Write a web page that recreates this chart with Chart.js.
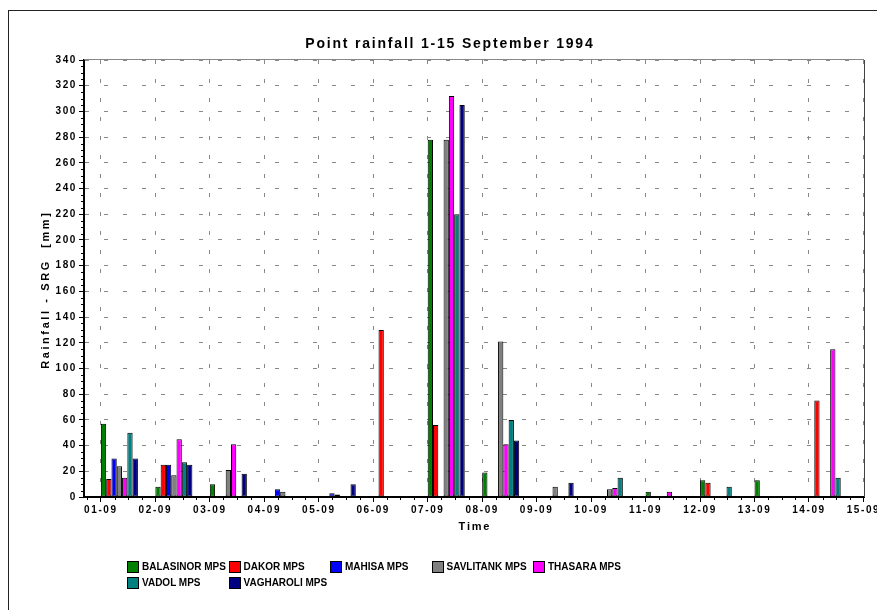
<!DOCTYPE html>
<html>
<head>
<meta charset="utf-8">
<script src="https://cdn.jsdelivr.net/npm/chart.js@4/dist/chart.umd.min.js"></script>
<style>
  html, body { margin: 0; padding: 0; background: #fff; overflow: hidden; }
  #wrap { position: relative; width: 877px; height: 610px; }
  #legend { position: absolute; left: 0; top: 0; width: 877px; height: 610px; pointer-events: none;
            font-family: "Liberation Sans", Arial, sans-serif; font-weight: bold; font-size: 10px; color: #000; }
  .item { position: absolute; height: 12px; white-space: nowrap; }
  .box { position: absolute; left: 0; top: 0; width: 10px; height: 10px; border: 1px solid #000; }
  .lab { position: absolute; left: 15px; top: -1px; line-height: 13px; }
</style>
</head>
<body>
<div id="wrap">
  <canvas id="c" width="877" height="610"></canvas>
  <div id="legend"></div>
</div>
<script>
// ---- data ----
const days = ['01-09','02-09','03-09','04-09','05-09','06-09','07-09','08-09','09-09','10-09','11-09','12-09','13-09','14-09'];
const tickLabels = ['01-09','02-09','03-09','04-09','05-09','06-09','07-09','08-09','09-09','10-09','11-09','12-09','13-09','14-09','15-09'];
const seriesNames = ['BALASINOR MPS','DAKOR MPS','MAHISA MPS','SAVLITANK MPS','THASARA MPS','VADOL MPS','VAGHAROLI MPS'];
const balasinor = [57,  8, 10, 0,  0,   0, 278,  19,  0,  0, 4, 13, 13,   0];
const dakor     = [14, 25,  0, 0,  0, 130,  56,   0,  0,  0, 0, 11,  0,  75];
const mahisa    = [30, 25,  0, 6,  3,   0,   0,   0,  0,  0, 0,  0,  0,   0];
const savlitank = [24, 17, 21, 4,  2,   0, 278, 121,  8,  6, 0,  0,  0,   0];
const thasara   = [15, 45, 41, 0,  0,   0, 312,  41,  0,  7, 4,  0,  0, 115];
const vadol     = [50, 27,  0, 0,  0,   0, 220,  60,  0, 15, 0,  8,  0,  15];
const vagharoli = [30, 25, 18, 0, 10,   0, 305,  44, 11,  0, 0,  0,  0,   0];
const yTicks = [0,20,40,60,80,100,120,140,160,180,200,220,240,260,280,300,320,340];

const seriesValues = [balasinor, dakor, mahisa, savlitank, thasara, vadol, vagharoli];
const seriesColors = ['#008000','#FF0000','#0000FF','#808080','#FF00FF','#008080','#000080'];

const GROUP = 0.68;           // share of a day occupied by the bar group
const FONT = '"Liberation Sans", Arial, sans-serif';

const datasets = seriesNames.map((name, s) => ({
  label: name,
  data: seriesValues[s].map((v, i) => ({ x: i + GROUP / 2, y: v })),
  backgroundColor: seriesColors[s],
  borderColor: '#000',
  borderWidth: 1,
  borderSkipped: false,
  categoryPercentage: GROUP,
  barPercentage: 1.0
}));

function spacedText(ctx, text, x, y, spacing) {
  ctx.letterSpacing = spacing + 'px';
  const w = ctx.measureText(text).width - spacing;
  ctx.textAlign = 'left';
  ctx.fillText(text, x - w / 2, y);
  ctx.letterSpacing = '0px';
}

const decor = {
  id: 'decor',
  beforeDraw(chart) {
    chart.ctx.letterSpacing = '1.6px';
  },
  afterDraw(chart) {
    const ctx = chart.ctx, a = chart.chartArea, xs = chart.scales.x, ys = chart.scales.y;
    ctx.save();
    ctx.letterSpacing = '0px';
    const line = (x1, y1, x2, y2, col, w) => {
      ctx.beginPath(); ctx.strokeStyle = col; ctx.lineWidth = w || 1;
      ctx.moveTo(x1, y1); ctx.lineTo(x2, y2); ctx.stroke();
    };
    // outer frame
    ctx.strokeStyle = '#222'; ctx.lineWidth = 1;
    ctx.strokeRect(8.5, 10.5, 900, 700);
    // plot top and right borders
    line(a.left, Math.round(a.top) - 0.5, a.right, Math.round(a.top) - 0.5, '#888');
    line(Math.round(a.right) + 0.5, a.top, Math.round(a.right) + 0.5, a.bottom, '#444');
    // minor ticks on y every 5 mm
    for (let v = 5; v < 340; v += 5) {
      if (v % 20 === 0) continue;
      const y = Math.round(ys.getPixelForValue(v)) + 0.5;
      line(a.left - 3, y, a.left, y, '#000');
    }
    // minor ticks on x every 6 hours
    for (let q = -0.25; q <= 14; q += 0.25) {
      if (Math.abs(q - Math.round(q)) < 1e-6 || q < xs.min) continue;
      const x = Math.round(xs.getPixelForValue(q)) + 0.5;
      line(x, a.bottom, x, a.bottom + 3, '#000');
    }
    // titles
    ctx.fillStyle = '#000';
    ctx.textBaseline = 'middle';
    ctx.font = 'bold 14px ' + FONT;
    spacedText(ctx, 'Point rainfall 1-15 September 1994', 449, 44, 1.8);
    ctx.font = 'bold 11px ' + FONT;
    spacedText(ctx, 'Time', 474, 527, 1.8);
    ctx.save();
    ctx.translate(46, 291);
    ctx.rotate(-Math.PI / 2);
    spacedText(ctx, 'Rainfall - SRG  [mm]', 0, 0, 2.6);
    ctx.restore();
    ctx.restore();
  }
};

const chart = new Chart(document.getElementById('c'), {
  type: 'bar',
  data: { datasets },
  plugins: [decor],
  options: {
    responsive: false,
    animation: false,
    events: [],
    layout: { padding: { left: 44, top: 60, right: 13, bottom: 93 } },
    plugins: { legend: { display: false }, title: { display: false }, tooltip: { enabled: false } },
    scales: {
      x: {
        type: 'linear',
        min: -0.31,
        max: 14.01,
        offset: false,
        afterBuildTicks: (sc) => { sc.ticks = tickLabels.map((_, i) => ({ value: i })); },
        afterFit: (sc) => { sc.height = 20; sc.paddingLeft = 0; sc.paddingRight = 0; },
        ticks: {
          autoSkip: false, maxRotation: 0, minRotation: 0, padding: 2,
          color: '#000', font: { family: FONT, size: 10, weight: 'bold' },
          callback: (v) => tickLabels[Math.round(v)]
        },
        grid: { color: '#888', lineWidth: 1, tickLength: 5, tickColor: '#000', offset: false, drawOnChartArea: true },
        border: { display: true, color: '#000', width: 2, dash: [4, 15] }
      },
      y: {
        min: 0, max: 340,
        afterBuildTicks: (sc) => { sc.ticks = yTicks.map(v => ({ value: v })); },
        afterFit: (sc) => { sc.width = 40; sc.paddingTop = 0; sc.paddingBottom = 0; },
        ticks: { padding: 2, color: '#000', font: { family: FONT, size: 10, weight: 'bold' } },
        grid: { color: '#888', lineWidth: 1, tickLength: 5, tickColor: '#000' },
        border: { display: true, color: '#000', width: 2, dash: [4, 15] }
      }
    }
  }
});

// legend in fixed columns, two rows, built from the datasets
const legend = document.getElementById('legend');
chart.data.datasets.forEach((ds, i) => {
  const col = i % 5, row = Math.floor(i / 5);
  const item = document.createElement('div');
  item.className = 'item';
  item.style.left = (127 + col * 101.5) + 'px';
  item.style.top = (561 + row * 16) + 'px';
  const box = document.createElement('div');
  box.className = 'box';
  box.style.background = ds.backgroundColor;
  const lab = document.createElement('div');
  lab.className = 'lab';
  lab.textContent = ds.label;
  item.appendChild(box); item.appendChild(lab);
  legend.appendChild(item);
});
</script>
</body>
</html>
